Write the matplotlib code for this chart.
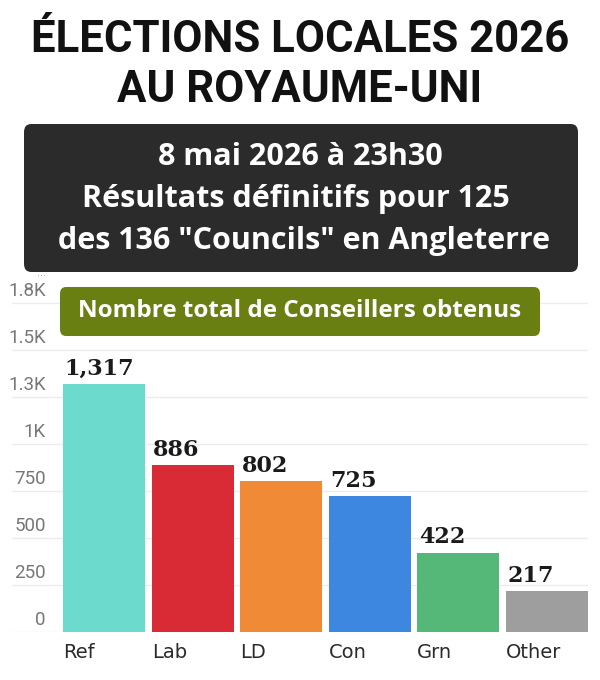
import matplotlib.pyplot as plt
from matplotlib.patches import FancyBboxPatch

# --- data ---
parties = ["Ref", "Lab", "LD", "Con", "Grn", "Other"]
seats = [1317, 886, 802, 725, 422, 217]
value_labels = ["1,317", "886", "802", "725", "422", "217"]
bar_colors = ["#6cdbcd", "#d92b36", "#f08a36", "#3e87e0", "#55b878", "#9e9e9e"]
ytick_values = [0, 250, 500, 750, 1000, 1250, 1500, 1750]
ytick_labels = ["0", "250", "500", "750", "1K", "1.3K", "1.5K", "1.8K"]

title_lines = ["ÉLECTIONS LOCALES 2026", "AU ROYAUME-UNI"]
box_lines = ["8 mai 2026 à 23h30",
             "Résultats définitifs pour 125 ",
             " des 136 \"Councils\" en Angleterre"]
subtitle = "Nombre total de Conseillers obtenus"

W, H = 600, 680


def fx(px):
    return px / W


def fy(py):
    return 1 - py / H


fig = plt.figure(figsize=(W / 100, H / 100), dpi=100)
fig.patch.set_facecolor("white")

# chart axes: left edge 12px, right 588px, zero line at 632px
ax_bottom, ax_top = 632, 280
ax = fig.add_axes([fx(12), fy(ax_bottom), fx(588 - 12), (ax_bottom - ax_top) / H])
ax.set_xlim(-1.04, 5.465)
ax.set_ylim(0, (ax_bottom - ax_top) * 250 / 47)
for s in ax.spines.values():
    s.set_visible(False)
ax.set_xticks([])
ax.set_yticks([])
ax.set_facecolor("none")

for v in ytick_values:
    ax.axhline(v, color="#ececec", lw=1, zorder=0)

width = 0.925
xs = range(len(parties))
ax.bar(xs, seats, width=width, color=bar_colors, zorder=2)

for x, v, lab, name in zip(xs, seats, value_labels, parties):
    ax.annotate(lab, (x - width / 2, v), xytext=(1, 3), textcoords="offset points",
                ha="left", va="bottom", fontsize=16, fontweight="bold",
                family="DejaVu Serif", color="#1a1a1a")
    ax.annotate(name, (x - width / 2, 0), xytext=(0, -8), textcoords="offset points",
                ha="left", va="top", fontsize=14, family="DejaVu Sans", color="#2a2a2a")

for v, lab in zip(ytick_values, ytick_labels):
    ax.annotate(lab, (-0.66, v), xytext=(0, 2), textcoords="offset points",
                ha="right", va="bottom", fontsize=13.5,
                family="Roboto", color="#777777")

fig.text(fx(46), fy(276), "···", ha="right", va="center", fontsize=7, color="#999999")

# --- header ---
fig.text(0.5, fy(40), title_lines[0], ha="center", va="center", fontsize=31.5,
         fontweight="bold", family="Roboto", color="#111111")
fig.text(0.5, fy(90), title_lines[1], ha="center", va="center", fontsize=31.5,
         fontweight="bold", family="Roboto", color="#111111")

dark = FancyBboxPatch((fx(24), fy(272)), fx(554), (272 - 124) / H,
                      boxstyle="round,pad=0,rounding_size=0.012",
                      transform=fig.transFigure, facecolor="#2b2b2b",
                      edgecolor="none", zorder=5)
fig.patches.append(dark)
for i, line in enumerate(box_lines):
    fig.text(0.5, fy(157 + 42 * i), line, ha="center", va="center", fontsize=22,
             fontweight="bold", family="Open Sans", color="white", zorder=6)

green = FancyBboxPatch((fx(60), fy(336)), fx(480), (336 - 287) / H,
                       boxstyle="round,pad=0,rounding_size=0.01",
                       transform=fig.transFigure, facecolor="#6a7f12",
                       edgecolor="none", zorder=5)
fig.patches.append(green)
fig.text(0.5, fy(311), subtitle, ha="center", va="center", fontsize=17.5,
         fontweight="bold", family="Open Sans", color="white", zorder=6)

fig.savefig("out.png", dpi=100)
